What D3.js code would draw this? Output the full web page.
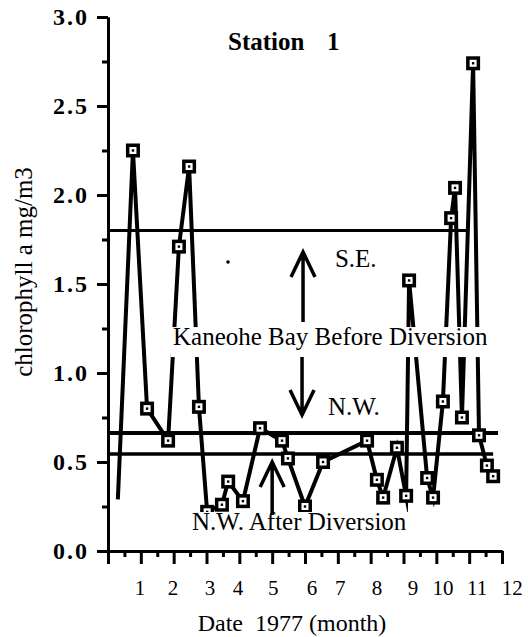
<!DOCTYPE html>
<html>
<head>
<meta charset="UTF-8">
<title>Station 1 chlorophyll a</title>
<script src="https://d3js.org/d3.v7.min.js"></script>
<style>
  body { margin: 0; background: #fff; }
  svg text { font-family: "Liberation Serif", "Times New Roman", serif !important; fill: #000; }
</style>
</head>
<body>
<svg width="528" height="637"></svg>
<script>
// sampling dates (month of 1977) and chlorophyll a (mg/m3)
var months = [0.30, 0.76, 1.19, 1.83, 2.16, 2.47, 2.77, 3.02, 3.47, 3.66, 4.11,
              4.63, 5.30, 5.48, 6.00, 6.55, 7.89, 8.19, 8.38, 8.80, 9.08, 9.17,
              9.72, 9.90, 10.20, 10.45, 10.57, 10.78, 11.12, 11.30, 11.54, 11.73];
var chla   = [0.29, 2.25, 0.80, 0.62, 1.71, 2.16, 0.81, 0.22, 0.26, 0.39, 0.28,
              0.69, 0.62, 0.52, 0.25, 0.50, 0.62, 0.40, 0.30, 0.58, 0.31, 1.52,
              0.41, 0.30, 0.84, 1.87, 2.04, 0.75, 2.74, 0.65, 0.48, 0.42];

// reference levels: Kaneohe Bay before diversion (S.E., N.W.) and N.W. after diversion
var seLevel = 1.80, nwLevel = 0.663, nwAfterLevel = 0.545;

var yTicks = [0, 0.5, 1, 1.5, 2, 2.5, 3];
var yTickLabels = ["0.0", "0.5", "1.0", "1.5", "2.0", "2.5", "3.0"];
var monthLabels = ["1", "2", "3", "4", "5", "6", "7", "8", "9", "10", "11", "12"];
var monthLabelAt = [0.975, 1.98, 3.11, 3.96, 5.03, 6.21, 7.07, 8.19, 9.29, 10.2, 11.24, 12.31];

var serif = '"Liberation Serif", "Times New Roman", serif';
var svg = d3.select("svg");

var x = d3.scaleLinear().domain([0, 12]).range([108, 502]);
var y = d3.scaleLinear().domain([0, 3]).range([551, 17]);

// axes
function styleAxis(g) {
    g.attr("font-family", serif);
    g.select(".domain").attr("stroke", "#000").attr("stroke-width", 3);
    g.selectAll(".tick line").attr("stroke", "#000").attr("stroke-width", 3);
}

svg.append("g")
   .attr("transform", "translate(108,0)")
   .call(d3.axisLeft(y).tickValues(d3.range(0.25, 3, 0.5)).tickSize(6).tickFormat("").tickSizeOuter(0))
   .call(styleAxis);

svg.append("g")
   .attr("transform", "translate(108,0)")
   .call(d3.axisLeft(y).tickValues(yTicks).tickSize(11).tickPadding(8).tickSizeOuter(0)
           .tickFormat(function(d, i) { return yTickLabels[i]; }))
   .call(styleAxis)
   .selectAll("text")
   .style("font-family", serif)
   .style("font-size", "24px")
   .style("font-weight", "bold")
   .style("letter-spacing", "2px");

svg.append("g")
   .attr("transform", "translate(0,551)")
   .call(d3.axisBottom(x).tickValues(d3.range(0.5, 12, 1)).tickSize(6).tickFormat("").tickSizeOuter(0))
   .call(styleAxis);

svg.append("g")
   .attr("transform", "translate(0,551)")
   .call(d3.axisBottom(x).tickValues(d3.range(0, 13, 1)).tickSize(13).tickFormat("").tickSizeOuter(0))
   .call(styleAxis);

svg.append("g").selectAll("text")
   .data(monthLabels)
   .enter()
   .append("text")
   .attr("x", function(d, i) { return x(monthLabelAt[i]); })
   .attr("y", 595)
   .attr("text-anchor", "middle")
   .style("font-family", serif)
   .style("font-size", "21px")
   .text(function(d) { return d; });

// axis titles
svg.append("text")
   .attr("x", 292).attr("y", 631)
   .attr("text-anchor", "middle")
   .style("font-family", serif)
   .style("font-size", "24px")
   .style("white-space", "pre")
   .text("Date  1977 (month)");

svg.append("text")
   .attr("transform", "translate(32,272) rotate(-90)")
   .attr("text-anchor", "middle")
   .style("font-family", serif)
   .style("font-size", "25px")
   .text("chlorophyll a mg/m3");

// reference level lines
svg.append("line")
   .attr("x1", x(0)).attr("x2", x(10.97))
   .attr("y1", y(seLevel)).attr("y2", y(seLevel))
   .attr("stroke", "#000").attr("stroke-width", 3);
svg.append("line")
   .attr("x1", x(0)).attr("x2", x(11.88))
   .attr("y1", y(nwLevel)).attr("y2", y(nwLevel))
   .attr("stroke", "#000").attr("stroke-width", 4);
svg.append("line")
   .attr("x1", x(0)).attr("x2", x(11.73))
   .attr("y1", y(nwAfterLevel)).attr("y2", y(nwAfterLevel))
   .attr("stroke", "#000").attr("stroke-width", 3.5);

// data line
var pts = months.map(function(m, i) { return [m, chla[i]]; });
var line = d3.line().x(function(d) { return x(d[0]); }).y(function(d) { return y(d[1]); });

svg.append("path")
   .datum(pts)
   .attr("d", line)
   .attr("fill", "none")
   .attr("stroke", "#000")
   .attr("stroke-width", 4)
   .attr("stroke-linejoin", "miter")
   .attr("stroke-miterlimit", 10);

// square markers (first sample has none in the original)
var marks = svg.append("g").selectAll("g")
   .data(pts.slice(1))
   .enter()
   .append("g")
   .attr("transform", function(d) { return "translate(" + x(d[0]) + "," + y(d[1]) + ")"; });
marks.append("rect").attr("x", -7).attr("y", -7).attr("width", 14).attr("height", 14).attr("fill", "#000");
marks.append("rect").attr("x", -3.5).attr("y", -3.5).attr("width", 7).attr("height", 7).attr("fill", "#fff");
marks.append("rect").attr("x", -1.2).attr("y", -1.2).attr("width", 2.4).attr("height", 2.4).attr("fill", "#000");

// annotations (opaque text boxes, as in the original drawing)
function label(txt, m, v, size, weight) {
    var t = svg.append("text")
       .attr("x", x(m)).attr("y", y(v))
       .style("font-family", serif)
       .style("font-size", size + "px")
       .style("font-weight", weight || "normal")
       .style("white-space", "pre")
       .text(txt);
    var bb = t.node().getBBox();
    svg.insert("rect", function() { return t.node(); })
       .attr("x", bb.x - 2).attr("y", bb.y + 4)
       .attr("width", bb.width + 4).attr("height", bb.height + 3)
       .attr("fill", "#fff");
    return t;
}

function arrow(m, vTail, vTip) {
    var xt = x(m), y0 = y(vTail), y1 = y(vTip);
    var dir = y1 < y0 ? 1 : -1;
    svg.append("path")
       .attr("d", "M" + xt + "," + y0 + "L" + xt + "," + y1 +
                  "M" + (xt - 12) + "," + (y1 + dir * 25) + "L" + xt + "," + y1 + "L" + (xt + 12) + "," + (y1 + dir * 25))
       .attr("fill", "none")
       .attr("stroke", "#000")
       .attr("stroke-width", 3.5);
}

label("Station", 3.655, 2.815, 25, "bold");
label("1", 6.67, 2.815, 25, "bold");
label("S.E.", 6.91, 1.596, 25);
label("Kaneohe Bay Before Diversion", 1.98, 1.157, 25);
label("N.W.", 6.70, 0.764, 25);
label("N.W. After Diversion", 2.56, 0.118, 25);

arrow(5.94, 1.287, 1.68);
arrow(5.91, 1.09, 0.764);
arrow(5.00, 0.202, 0.50);

// small stray dot in the original figure
svg.append("circle").attr("cx", x(3.655)).attr("cy", y(1.624)).attr("r", 1.8).attr("fill", "#000");
</script>
</body>
</html>
